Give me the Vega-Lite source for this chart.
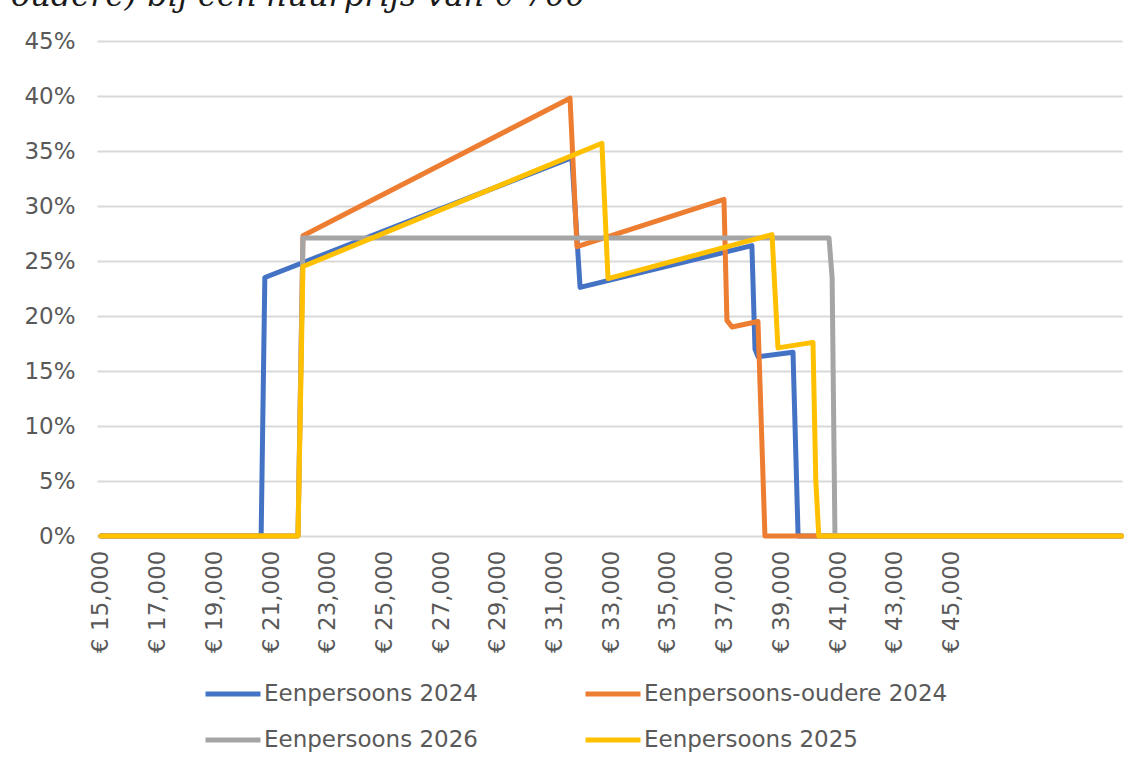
{
  "$schema": "https://vega.github.io/schema/vega-lite/v6.json",
  "width": 1025,
  "height": 495,
  "autosize": {"type": "none"},
  "padding": {"left": 97, "top": 41, "right": 14, "bottom": 229},
  "background": "white",
  "title": {
    "text": "oudere) bij een huurprijs van € 700",
    "font": "DejaVu Serif",
    "fontStyle": "italic",
    "fontWeight": "normal",
    "fontSize": 32,
    "color": "#1a1a1a",
    "anchor": "start",
    "frame": "group",
    "baseline": "alphabetic",
    "dx": -86,
    "offset": -8
  },
  "data": {
    "values": [
      {"serie": "Eenpersoons 2024", "inkomen": 15000, "aandeel": 0},
      {"serie": "Eenpersoons 2024", "inkomen": 20650, "aandeel": 0},
      {"serie": "Eenpersoons 2024", "inkomen": 20780, "aandeel": 0.235},
      {"serie": "Eenpersoons 2024", "inkomen": 31610, "aandeel": 0.344},
      {"serie": "Eenpersoons 2024", "inkomen": 31900, "aandeel": 0.226},
      {"serie": "Eenpersoons 2024", "inkomen": 37960, "aandeel": 0.264},
      {"serie": "Eenpersoons 2024", "inkomen": 38070, "aandeel": 0.17},
      {"serie": "Eenpersoons 2024", "inkomen": 38175, "aandeel": 0.163},
      {"serie": "Eenpersoons 2024", "inkomen": 39410, "aandeel": 0.167},
      {"serie": "Eenpersoons 2024", "inkomen": 39590, "aandeel": 0},
      {"serie": "Eenpersoons 2024", "inkomen": 51000, "aandeel": 0},
      {"serie": "Eenpersoons-oudere 2024", "inkomen": 15000, "aandeel": 0},
      {"serie": "Eenpersoons-oudere 2024", "inkomen": 21950, "aandeel": 0},
      {"serie": "Eenpersoons-oudere 2024", "inkomen": 22125, "aandeel": 0.273},
      {"serie": "Eenpersoons-oudere 2024", "inkomen": 31545, "aandeel": 0.398},
      {"serie": "Eenpersoons-oudere 2024", "inkomen": 31790, "aandeel": 0.263},
      {"serie": "Eenpersoons-oudere 2024", "inkomen": 36975, "aandeel": 0.306},
      {"serie": "Eenpersoons-oudere 2024", "inkomen": 37080, "aandeel": 0.196},
      {"serie": "Eenpersoons-oudere 2024", "inkomen": 37260, "aandeel": 0.19},
      {"serie": "Eenpersoons-oudere 2024", "inkomen": 38175, "aandeel": 0.195},
      {"serie": "Eenpersoons-oudere 2024", "inkomen": 38420, "aandeel": 0},
      {"serie": "Eenpersoons-oudere 2024", "inkomen": 51000, "aandeel": 0},
      {"serie": "Eenpersoons 2026", "inkomen": 15000, "aandeel": 0},
      {"serie": "Eenpersoons 2026", "inkomen": 21950, "aandeel": 0},
      {"serie": "Eenpersoons 2026", "inkomen": 22125, "aandeel": 0.271},
      {"serie": "Eenpersoons 2026", "inkomen": 40680, "aandeel": 0.271},
      {"serie": "Eenpersoons 2026", "inkomen": 40790, "aandeel": 0.235},
      {"serie": "Eenpersoons 2026", "inkomen": 40890, "aandeel": 0},
      {"serie": "Eenpersoons 2026", "inkomen": 51000, "aandeel": 0},
      {"serie": "Eenpersoons 2025", "inkomen": 15000, "aandeel": 0},
      {"serie": "Eenpersoons 2025", "inkomen": 21950, "aandeel": 0},
      {"serie": "Eenpersoons 2025", "inkomen": 22125, "aandeel": 0.245},
      {"serie": "Eenpersoons 2025", "inkomen": 32670, "aandeel": 0.357},
      {"serie": "Eenpersoons 2025", "inkomen": 32885, "aandeel": 0.234},
      {"serie": "Eenpersoons 2025", "inkomen": 38670, "aandeel": 0.274},
      {"serie": "Eenpersoons 2025", "inkomen": 38880, "aandeel": 0.171},
      {"serie": "Eenpersoons 2025", "inkomen": 40115, "aandeel": 0.176},
      {"serie": "Eenpersoons 2025", "inkomen": 40215, "aandeel": 0.05},
      {"serie": "Eenpersoons 2025", "inkomen": 40320, "aandeel": 0},
      {"serie": "Eenpersoons 2025", "inkomen": 51000, "aandeel": 0}
    ]
  },
  "mark": {"type": "line", "strokeWidth": 5, "strokeJoin": "round", "strokeCap": "round"},
  "encoding": {
    "x": {
      "field": "inkomen",
      "type": "quantitative",
      "scale": {"domain": [14860, 51015], "nice": false, "zero": false},
      "axis": {
        "values": [15000, 17000, 19000, 21000, 23000, 25000, 27000, 29000, 31000, 33000, 35000, 37000, 39000, 41000, 43000, 45000],
        "labelExpr": "'€ ' + format(datum.value, ',')",
        "labelAngle": 270,
        "labelFontSize": 23,
        "labelFont": "DejaVu Sans",
        "labelColor": "#595959",
        "labelPadding": 14,
        "ticks": false,
        "tickSize": 0,
        "domain": false,
        "grid": false,
        "title": null,
        "labelOverlap": false,
        "labelFlush": false
      }
    },
    "y": {
      "field": "aandeel",
      "type": "quantitative",
      "scale": {"domain": [0, 0.45], "nice": false},
      "axis": {
        "values": [0, 0.05, 0.1, 0.15, 0.2, 0.25, 0.3, 0.35, 0.4, 0.45],
        "format": ".0%",
        "labelFontSize": 23,
        "labelFont": "DejaVu Sans",
        "labelColor": "#595959",
        "labelPadding": 22,
        "ticks": false,
        "tickSize": 0,
        "domain": false,
        "grid": true,
        "gridColor": "#D9D9D9",
        "gridWidth": 2,
        "title": null,
        "labelOverlap": false,
        "labelFlush": false
      }
    },
    "color": {
      "field": "serie",
      "type": "nominal",
      "scale": {
        "domain": ["Eenpersoons 2024", "Eenpersoons-oudere 2024", "Eenpersoons 2026", "Eenpersoons 2025"],
        "range": ["#4472C4", "#ED7D31", "#A5A5A5", "#FFC000"]
      },
      "legend": {
        "title": null,
        "orient": "none",
        "direction": "horizontal",
        "legendX": 124,
        "legendY": 641,
        "columns": 2,
        "columnPadding": 97,
        "rowPadding": 22,
        "padding": 0,
        "symbolType": "M-3,0L3,0",
        "symbolSize": 336,
        "symbolStrokeWidth": 5,
        "labelFontSize": 23,
        "labelFont": "DejaVu Sans",
        "labelColor": "#595959",
        "labelOffset": 19,
        "labelLimit": 500
      }
    }
  },
  "config": {"view": {"stroke": null}}
}
